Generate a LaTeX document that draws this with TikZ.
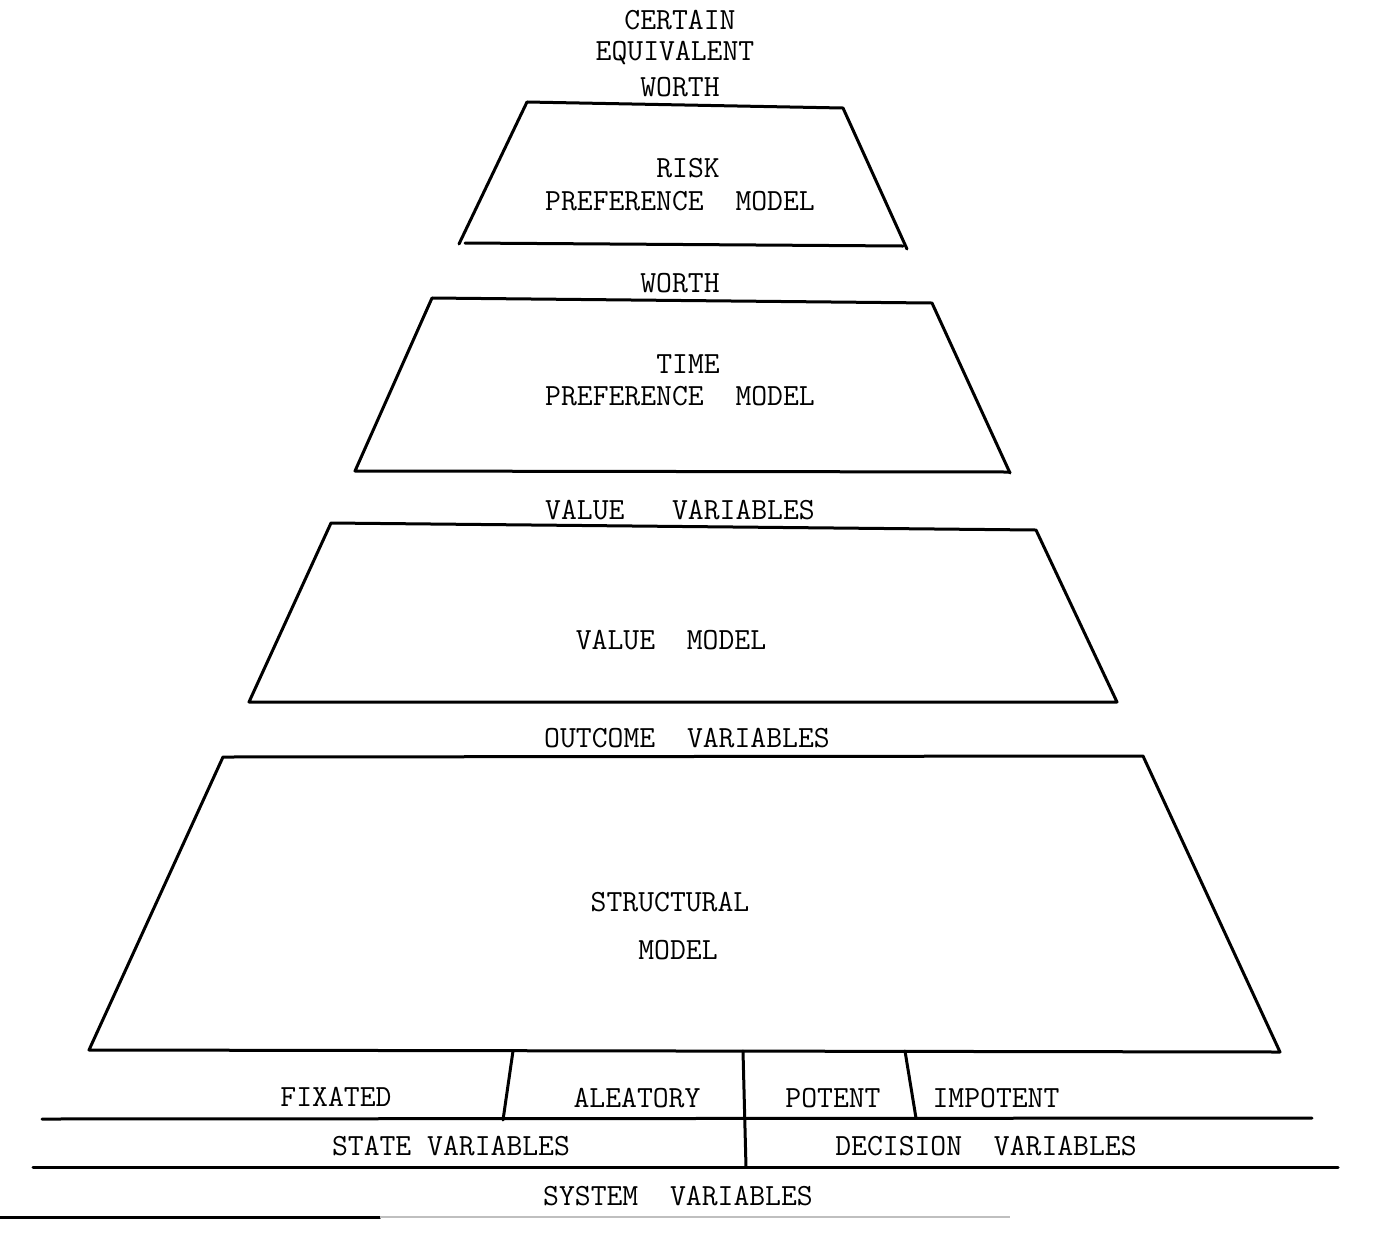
\documentclass[tikz,border=0pt]{standalone}
\begin{document}
\begin{tikzpicture}[x=0.5pt,y=-0.5pt,
  edge/.style={line width=1.5pt,line join=round,line cap=round},
  lbl/.style={font=\fontsize{15.4}{18}\selectfont\ttfamily,inner sep=0pt}]
\useasboundingbox (0,0) rectangle (1383,1233);
% trapezoids
\draw[edge] (527,102) -- (843,108) -- (907,249);
\draw[edge] (527,102) -- (459,244);
\draw[edge] (465,243) -- (903,246);
\draw[edge] (432,298) -- (932,303) -- (1010,473);
\draw[edge] (432,298) -- (355,471) -- (1010,472);
\draw[edge] (331,523) -- (1036,530) -- (1117,702) -- (249,702) -- cycle;
\draw[edge] (223,757) -- (1143,756) -- (1280,1052) -- (89,1050) -- cycle;
% bottom separators
\draw[edge] (513,1051) -- (503,1120);
\draw[edge] (743,1051) -- (746,1167);
\draw[edge] (905,1051) -- (916,1118);
\draw[edge] (42,1119) -- (1312,1118);
\draw[edge] (33,1167) -- (1338,1167);
\draw[edge] (0,1217) -- (380,1217);
\draw[line width=1pt,black!25] (380,1217) -- (1010,1217);
% texts
\node[lbl] (ce1) at (680,20) {CERTAIN};
\node[lbl] (ce2) at (675,53) {EQUIVALENT};
\node[lbl] (ce3) at (680,87) {WORTH};
\node[lbl] (risk) at (688,168) {RISK};
\node[lbl] (rpm) at (680,201) {PREFERENCE~~MODEL};
\node[lbl] (worth) at (680,283) {WORTH};
\node[lbl] (time) at (688,364) {TIME};
\node[lbl] (tpm) at (680,396) {PREFERENCE~~MODEL};
\node[lbl] (vv) at (680,510) {VALUE~~~VARIABLES};
\node[lbl] (vm) at (671,640) {VALUE~~MODEL};
\node[lbl] (ov) at (687,738) {OUTCOME~~VARIABLES};
\node[lbl] (sm1) at (670,902) {STRUCTURAL};
\node[lbl] (sm2) at (678,950) {MODEL};
\node[lbl] (fix) at (336,1097) {FIXATED};
\node[lbl] (ale) at (637,1098) {ALEATORY};
\node[lbl] (pot) at (833,1098) {POTENT};
\node[lbl] (imp) at (996,1098) {IMPOTENT};
\node[lbl] (sv) at (451,1146) {STATE VARIABLES};
\node[lbl] (dv) at (986,1146) {DECISION~~VARIABLES};
\node[lbl] (sys) at (678,1196) {SYSTEM~~VARIABLES};
\end{tikzpicture}
\end{document}
